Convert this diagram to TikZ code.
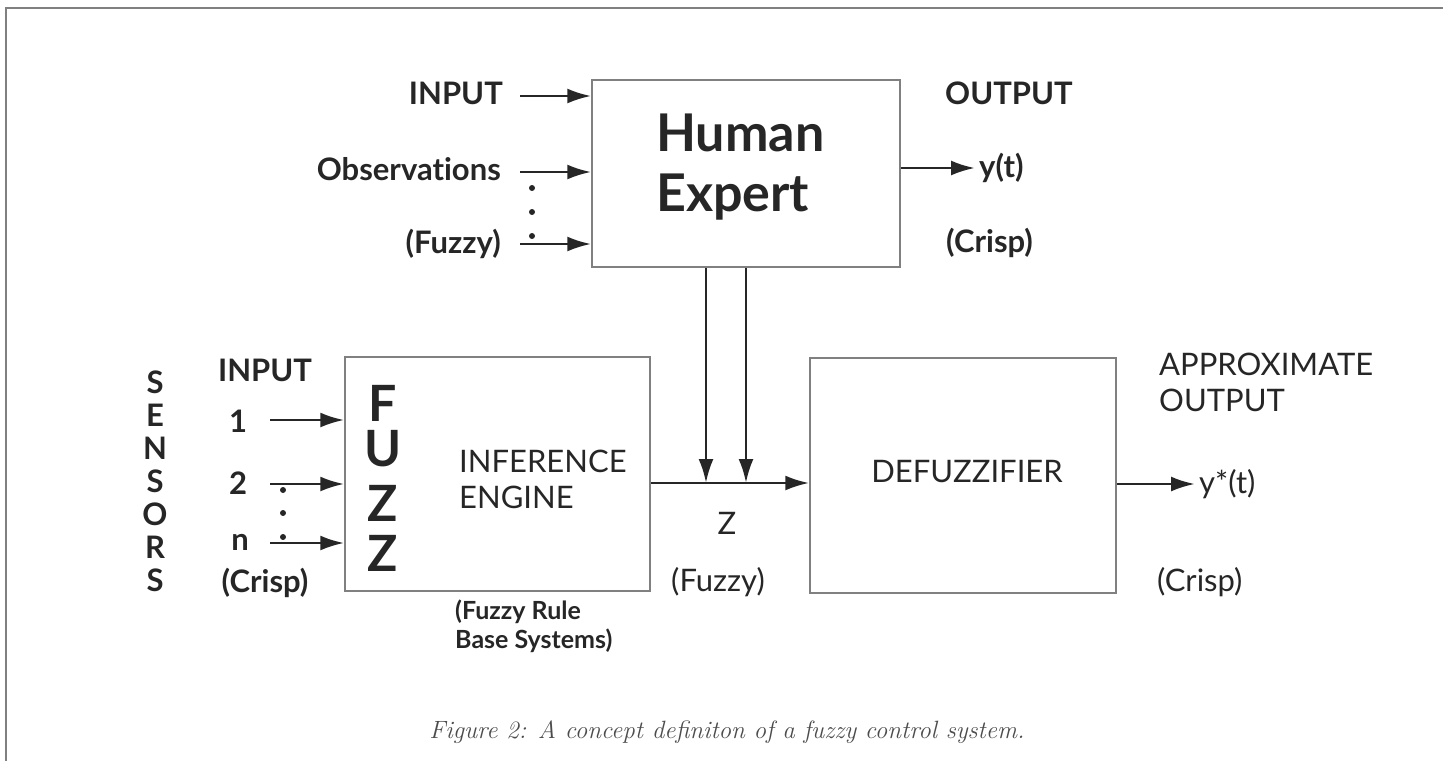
\documentclass[tikz,border=0pt]{standalone}
\usepackage{fontspec}
\setmainfont{Lato}[Ligatures={NoCommon,NoRare}]
\usetikzlibrary{arrows.meta,calc}
\definecolor{ink}{gray}{0.15}
\definecolor{boxline}{gray}{0.5}
\definecolor{capgray}{gray}{0.3}
\tikzset{
  blk/.style={draw=boxline,line width=1.5pt,minimum width=#1,inner sep=0pt},
  arr/.style={draw=ink,line width=2.8pt,-{Latex[length=24pt,width=15pt]}},
  lbl/.style={text=ink,font=\fontsize{31}{36}\selectfont\bfseries,inner sep=0pt},
  lblr/.style={text=ink,font=\fontsize{31}{36}\selectfont,inner sep=0pt},
  big/.style={text=ink,font=\fontsize{52}{60}\selectfont\bfseries,inner sep=0pt,align=left},
  fz/.style={text=ink,font=\fontsize{50}{50}\selectfont\bfseries,inner sep=0pt},
  small/.style={text=ink,font=\fontsize{25}{29}\selectfont\bfseries,inner sep=0pt,align=left},
  dotc/.style={fill=ink,circle,inner sep=0pt,minimum size=6pt},
  frame/.style={draw=boxline,line width=2pt}
}
\begin{document}
\begin{tikzpicture}[x=1pt,y=-1pt]
\useasboundingbox (0,0) rectangle (1443,761);
% frame
\coordinate (ftl) at (6,8);
\coordinate (ftr) at (1443,8);
\coordinate (fbl) at (6,761);
\draw[frame] (ftr) -- (ftl) -- (fbl);

% boxes
\node[blk=308pt,minimum height=187pt] (he) at (746,173.5) {};
\node[blk=305pt,minimum height=234pt] (ie) at (497.5,474) {};
\node[blk=306pt,minimum height=235pt] (df) at (963,475.5) {};

% Human expert
\node[big,anchor=west] (het) at (656,167) {Human\\Expert};
\node[lbl,anchor=east] (in1) at (503,93) {INPUT};
\node[lbl,anchor=east] (in2) at (501,169) {Observations};
\node[lbl,anchor=east] (in3) at (501,244) {(Fuzzy)};
\coordinate (a1) at (520,96);
\coordinate (a2) at (520,172);
\coordinate (a3) at (520,244);
\draw[arr] (a1) -- (a1 -| he.west);
\draw[arr] (a2) -- (a2 -| he.west);
\draw[arr] (a3) -- (a3 -| he.west);
\node[dotc] (d1) at (532,188) {};
\node[dotc] (d2) at (532,212) {};
\node[dotc] (d3) at (532,236) {};
\node[lbl,anchor=west] (out) at (945,93) {OUTPUT};
\coordinate (yo) at (975,168);
\draw[arr] (yo -| he.east) -- (yo);
\node[lbl,anchor=west] (yt) at (979,168) {y(t)};
\node[lbl,anchor=west] (cr1) at (946,243) {(Crisp)};

% sensors
\foreach \L [count=\i from 0] in {S,E,N,S,O,R,S}
  \node[lbl] (s\i) at (155,382+33*\i) {\L};
\node[lbl] (inl) at (265,370) {INPUT};
\node[lbl] (n1) at (238,421) {1};
\node[lbl] (n2) at (238,483) {2};
\node[lbl] (nn) at (240,542) {n};
\node[lbl] (cr2) at (265,583) {(Crisp)};
\coordinate (b1) at (270,420);
\coordinate (b2) at (270,484);
\coordinate (b3) at (270,543);
\draw[arr] (b1) -- (b1 -| ie.west);
\draw[arr] (b2) -- (b2 -| ie.west);
\draw[arr] (b3) -- (b3 -| ie.west);
\node[dotc] (e1) at (283,490) {};
\node[dotc] (e2) at (283,513) {};
\node[dotc] (e3) at (283,537) {};

% inference engine
\node[fz] (f1) at (383,403) {F};
\node[fz] (f2) at (383,449) {U};
\node[fz] (f3) at (383,503) {Z};
\node[fz] (f4) at (383,553) {Z};
\node[lblr,anchor=west,align=left] (iet) at (459,479) {INFERENCE\\ENGINE};
\node[small,anchor=north west] (frb) at (455,600) {(Fuzzy Rule\\Base Systems)};

% middle connection
\coordinate (zl) at (700,483);
\coordinate (v1) at (706,483);
\coordinate (v2) at (746,483);
\draw[arr] (zl -| ie.east) -- (zl -| df.west);
\draw[arr] (v1 |- he.south) -- (v1);
\draw[arr] (v2 |- he.south) -- (v2);
\node[lblr] (zt) at (727,523) {Z};
\node[lblr] (fzt) at (718,582) {(Fuzzy)};

% defuzzifier
\node[lblr] (dft) at (967,472) {DEFUZZIFIER};
\node[lblr,anchor=west,align=left] (apo) at (1159,382) {APPROXIMATE\\OUTPUT};
\coordinate (ys) at (1195,484);
\draw[arr] (ys -| df.east) -- (ys);
\node[lblr,anchor=west] (yst) at (1199,484) {y*(t)};
\node[lblr,anchor=west] (cr3) at (1157,582) {(Crisp)};

% caption
\node[text=capgray,font=\fontspec{Latin Modern Roman}\fontsize{25}{30}\selectfont\itshape,inner sep=0pt] (cap) at (727,732) {Figure 2: A concept definiton of a fuzzy control system.};
\end{tikzpicture}
\end{document}
